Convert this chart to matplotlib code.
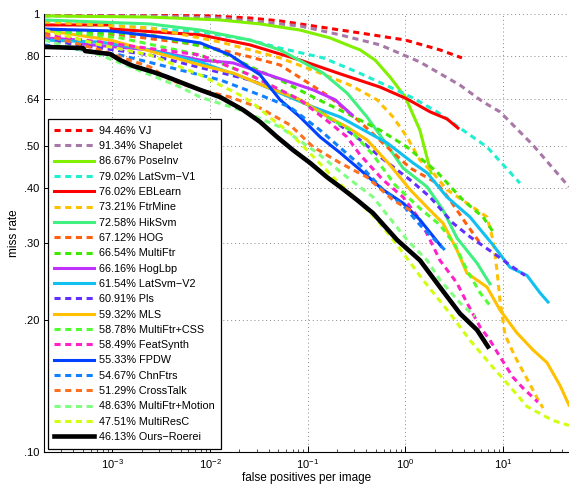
import numpy as np
import matplotlib
matplotlib.use('Agg')
import matplotlib.pyplot as plt
from matplotlib.ticker import FixedLocator, FixedFormatter, LogLocator, NullLocator

plt.rcParams['font.family'] = ['Liberation Sans', 'DejaVu Sans']

# curvas: fppi e miss rate
vj_x = [2.0e-4, 2.44e-3, 0.01, 0.0257, 0.0521, 0.134, 0.344, 1.0, 2.26, 3.80]
vj_y = [0.995, 0.993, 0.990, 0.979, 0.964, 0.934, 0.905, 0.872, 0.828, 0.794]

shapelet_x = [2.0e-4, 2.44e-3, 0.0127, 0.0326, 0.0835, 0.215, 0.551, 1.41, 3.63, 6.24, 9.31, 20.3, 47.4]
shapelet_y = [0.990, 0.990, 0.979, 0.959, 0.939, 0.896, 0.850, 0.777, 0.688, 0.630, 0.598, 0.502, 0.403]

poseinv_x = [2.0e-4, 2.44e-3, 0.0127, 0.0326, 0.0835, 0.169, 0.272, 0.344, 0.49, 0.697, 1.0, 1.41, 1.83]
poseinv_y = [0.990, 0.984, 0.969, 0.949, 0.919, 0.882, 0.845, 0.828, 0.785, 0.718, 0.646, 0.543, 0.434]

latsvm1_x = [2.0e-4, 1.2e-3, 7.93e-3, 0.0257, 0.0521, 0.144, 0.321, 0.697, 1.20, 2.11, 3.63, 6.86, 14.9]
latsvm1_y = [0.949, 0.939, 0.910, 0.872, 0.836, 0.794, 0.737, 0.681, 0.643, 0.598, 0.549, 0.497, 0.411]

eblearn_x = [2.0e-4, 9.5e-4, 9.8e-4, 7.93e-3, 0.0257, 0.0835, 0.215, 0.551, 1.04, 1.79, 2.67, 3.46]
eblearn_y = [0.944, 0.944, 0.924, 0.896, 0.850, 0.785, 0.730, 0.681, 0.640, 0.598, 0.576, 0.549]

ftrmine_x = [2.0e-4, 2.44e-3, 0.0127, 0.0521, 0.134, 0.272, 0.513, 0.748, 1.04, 1.41, 1.92, 2.67,
             4.59, 6.86, 7.90, 8.68, 9.31, 10.5, 13.3, 17.6, 22.3, 25.7]
ftrmine_y = [0.959, 0.929, 0.863, 0.794, 0.733, 0.688, 0.637, 0.582, 0.524, 0.464, 0.434, 0.397,
             0.366, 0.344, 0.305, 0.260, 0.222, 0.185, 0.165, 0.147, 0.133, 0.126]

hiksvm_x = [2.0e-4, 2.44e-3, 7.93e-3, 0.0257, 0.0521, 0.144, 0.253, 0.405, 0.551, 0.947, 1.67, 2.43, 3.38, 5.42, 7.36]
hiksvm_y = [0.969, 0.949, 0.919, 0.872, 0.828, 0.733, 0.660, 0.582, 0.529, 0.445, 0.403, 0.357, 0.308, 0.270, 0.242]

hog_x = [2.0e-4, 1.2e-3, 7.93e-3, 0.0257, 0.0521, 0.0984, 0.169, 0.344, 0.620, 1.12, 2.11, 2.87, 4.28, 5.82]
hog_y = [0.905, 0.896, 0.850, 0.798, 0.765, 0.699, 0.646, 0.567, 0.502, 0.445, 0.411, 0.376, 0.330, 0.300]

multiftr_x = [2.0e-4, 2.44e-3, 0.0118, 0.0276, 0.0521, 0.114, 0.272, 0.551, 1.04, 2.11, 3.89, 6.24, 8.09]
multiftr_y = [0.919, 0.896, 0.828, 0.753, 0.707, 0.646, 0.588, 0.543, 0.497, 0.436, 0.376, 0.344, 0.316]

hoglbp_x = [2.0e-4, 4.68e-4, 4.9e-4, 2.44e-3, 7.93e-3, 0.0173, 0.0326, 0.0660, 0.114, 0.191, 0.285]
hoglbp_y = [0.882, 0.872, 0.854, 0.828, 0.785, 0.773, 0.737, 0.699, 0.671, 0.637, 0.588]

latsvm2_x = [2.0e-4, 7.5e-4, 2.44e-3, 7.93e-3, 0.0257, 0.0521, 0.114, 0.215, 0.344, 0.649, 1.20, 1.67,
             2.67, 4.59, 7.90, 11.8, 17.6, 23.9, 28.9]
latsvm2_y = [0.872, 0.863, 0.828, 0.777, 0.707, 0.660, 0.613, 0.582, 0.549, 0.508, 0.457, 0.434,
             0.382, 0.344, 0.297, 0.264, 0.253, 0.231, 0.220]

pls_x = [2.0e-4, 2.44e-3, 0.0257, 0.0835, 0.169, 0.344, 0.551, 1.12, 1.79, 3.08, 4.59, 7.90, 11.8, 16.8]
pls_y = [0.872, 0.806, 0.707, 0.637, 0.579, 0.516, 0.472, 0.418, 0.382, 0.333, 0.310, 0.285, 0.267, 0.253]

mls_x = [2.0e-4, 9.5e-4, 7.93e-3, 0.0173, 0.0384, 0.0835, 0.169, 0.253, 0.405, 0.697, 1.12, 1.67,
         2.43, 3.38, 4.28, 6.86, 9.31, 13.9, 20.3, 28.2, 38.3, 47.4]
mls_y = [0.919, 0.872, 0.765, 0.733, 0.681, 0.637, 0.579, 0.552, 0.516, 0.452, 0.397, 0.362,
         0.333, 0.289, 0.256, 0.238, 0.211, 0.187, 0.171, 0.160, 0.142, 0.128]

css_x = [2.0e-4, 1.2e-3, 7.93e-3, 0.0257, 0.0660, 0.134, 0.272, 0.467, 0.785, 1.41, 2.26, 3.23, 4.28, 5.82, 7.71]
css_y = [0.919, 0.882, 0.806, 0.726, 0.653, 0.594, 0.543, 0.477, 0.407, 0.360, 0.330, 0.297, 0.260, 0.231, 0.213]

featsynth_x = [2.0e-4, 7.5e-4, 7.93e-3, 0.0257, 0.0835, 0.169, 0.253, 0.344, 0.591, 0.947, 1.41, 1.79,
               2.26, 3.38, 4.28, 5.82, 7.36, 9.31, 12.7, 16.0, 22.8]
featsynth_y = [0.896, 0.863, 0.806, 0.726, 0.637, 0.564, 0.524, 0.477, 0.418, 0.382, 0.339, 0.305,
               0.274, 0.243, 0.219, 0.193, 0.180, 0.165, 0.148, 0.140, 0.130]

fpdw_x = [2.0e-4, 9.5e-4, 3.09e-3, 7.93e-3, 0.0161, 0.0326, 0.0521, 0.0835, 0.134, 0.215, 0.344, 0.591, 0.947, 1.41, 2.32]
fpdw_y = [0.924, 0.915, 0.886, 0.859, 0.806, 0.726, 0.637, 0.582, 0.524, 0.482, 0.441, 0.397, 0.370, 0.339, 0.295]

chnftrs_x = [2.0e-4, 1.2e-3, 4.95e-3, 0.0127, 0.0326, 0.0660, 0.134, 0.344, 0.591, 0.947, 1.41, 2.55]
chnftrs_y = [0.850, 0.806, 0.745, 0.707, 0.653, 0.613, 0.543, 0.452, 0.397, 0.366, 0.330, 0.289]

crosstalk_x = [2.0e-4, 7.5e-4, 1.2e-3, 2.44e-3, 3.91e-3, 7.93e-3, 0.0161, 0.0326, 0.0660, 0.114, 0.215, 0.405, 0.748, 1.26]
crosstalk_y = [0.896, 0.828, 0.798, 0.757, 0.707, 0.671, 0.646, 0.610, 0.558, 0.497, 0.457, 0.424, 0.376, 0.351]

motion_x = [2.0e-4, 7.5e-4, 2.44e-3, 4.95e-3, 7.93e-3, 0.0203, 0.0521, 0.125, 0.253, 0.467, 1.04, 1.67, 2.26, 3.63, 5.17]
motion_y = [0.872, 0.806, 0.726, 0.681, 0.646, 0.604, 0.552, 0.482, 0.424, 0.382, 0.305, 0.274, 0.247, 0.219, 0.204]

multiresc_x = [2.0e-4, 7.5e-4, 2.44e-3, 7.93e-3, 0.0203, 0.0276, 0.0442, 0.0660, 0.0984, 0.182, 0.321, 0.513,
               0.822, 1.52, 2.87, 4.59, 7.90, 11.8, 17.6, 32.5, 47.4]
multiresc_y = [0.919, 0.850, 0.806, 0.726, 0.653, 0.626, 0.573, 0.535, 0.489, 0.424, 0.376, 0.339,
               0.297, 0.247, 0.207, 0.180, 0.156, 0.141, 0.127, 0.118, 0.115]

roerei_x = [2.0e-4, 5.02e-4, 5.27e-4, 9.5e-4, 1.2e-3, 1.63e-3, 2.62e-3, 3.65e-3, 4.95e-3, 7.93e-3, 0.0127, 0.0218,
            0.0326, 0.0486, 0.0708, 0.106, 0.158, 0.215, 0.321, 0.467, 0.822, 1.41, 2.26, 3.63, 5.42, 7.02]
roerei_y = [0.841, 0.836, 0.823, 0.810, 0.785, 0.761, 0.737, 0.718, 0.699, 0.671, 0.646, 0.604,
            0.567, 0.524, 0.489, 0.457, 0.424, 0.403, 0.376, 0.351, 0.305, 0.274, 0.238, 0.207, 0.190, 0.174]

labels = ['94.46% VJ', '91.34% Shapelet', '86.67% PoseInv', '79.02% LatSvm\u2212V1', '76.02% EBLearn',
          '73.21% FtrMine', '72.58% HikSvm', '67.12% HOG', '66.54% MultiFtr', '66.16% HogLbp',
          '61.54% LatSvm\u2212V2', '60.91% Pls', '59.32% MLS', '58.78% MultiFtr+CSS', '58.49% FeatSynth',
          '55.33% FPDW', '54.67% ChnFtrs', '51.29% CrossTalk', '48.63% MultiFtr+Motion', '47.51% MultiResC',
          '46.13% Ours\u2212Roerei']
curves = [(vj_x, vj_y), (shapelet_x, shapelet_y), (poseinv_x, poseinv_y), (latsvm1_x, latsvm1_y),
          (eblearn_x, eblearn_y), (ftrmine_x, ftrmine_y), (hiksvm_x, hiksvm_y), (hog_x, hog_y),
          (multiftr_x, multiftr_y), (hoglbp_x, hoglbp_y), (latsvm2_x, latsvm2_y), (pls_x, pls_y),
          (mls_x, mls_y), (css_x, css_y), (featsynth_x, featsynth_y), (fpdw_x, fpdw_y),
          (chnftrs_x, chnftrs_y), (crosstalk_x, crosstalk_y), (motion_x, motion_y),
          (multiresc_x, multiresc_y), (roerei_x, roerei_y)]
colors = ['#ff0000', '#a878a8', '#80f000', '#20f0d0', '#ff0000', '#ffc000', '#40f080', '#ff6010',
          '#40e800', '#c030ff', '#10c0f0', '#6030ff', '#ffc000', '#50ff30', '#ff20c8', '#0040ff',
          '#1080ff', '#ff7020', '#80ff80', '#d0ff10', '#000000']
dashed = [True, True, False, True, False, True, False, True, True, False, False, True, False,
          True, True, False, True, True, True, True, False]

fig = plt.figure(figsize=(5.69, 4.84), dpi=100)
ax = fig.add_axes([0.0773, 0.0661, 0.9227, 0.905])

for (xs, ys), lab, c, d in zip(curves, labels, colors, dashed):
    lw = 3.3 if c == '#000000' else 2.2
    ls = (0, (2.0, 1.5)) if d else '-'
    ax.plot(xs, ys, color=c, lw=lw, linestyle=ls, label=lab)

ax.set_xscale('log')
ax.set_yscale('log')
ax.set_xlim(10 ** -3.7, 10 ** 1.676)
ax.set_ylim(0.1, 1.0)

yt = [0.10, 0.20, 0.30, 0.40, 0.50, 0.64, 0.80, 1.0]
ax.yaxis.set_major_locator(FixedLocator(yt))
ax.yaxis.set_major_formatter(FixedFormatter(['.10', '.20', '.30', '.40', '.50', '.64', '.80', '1']))
ax.yaxis.set_minor_locator(NullLocator())
ax.xaxis.set_major_locator(LogLocator(base=10, numticks=10))
ax.xaxis.set_minor_locator(LogLocator(base=10, subs=np.arange(2, 10), numticks=20))

ax.tick_params(which='both', direction='in', labelsize=8, top=False, right=False)
ax.tick_params(which='major', length=4, width=0.7)
ax.tick_params(which='minor', length=2, width=0.5)
ax.grid(True, which='major', linestyle=(0, (1, 3)), color='#888888', linewidth=0.7)
ax.spines['top'].set_visible(False)
ax.spines['right'].set_visible(False)

ax.set_xlabel('false positives per image', fontsize=8.5, labelpad=1)
ax.set_ylabel('miss rate', fontsize=8.5, labelpad=3)

leg = ax.legend(loc='lower left', bbox_to_anchor=(0.007, 0.008), borderaxespad=0, fontsize=7.8,
                handlelength=3.7, handletextpad=0.4, labelspacing=0.49, borderpad=0.6,
                fancybox=False, framealpha=1, edgecolor='black')
leg.get_frame().set_linewidth(0.9)

plt.savefig('out.png', dpi=100)
